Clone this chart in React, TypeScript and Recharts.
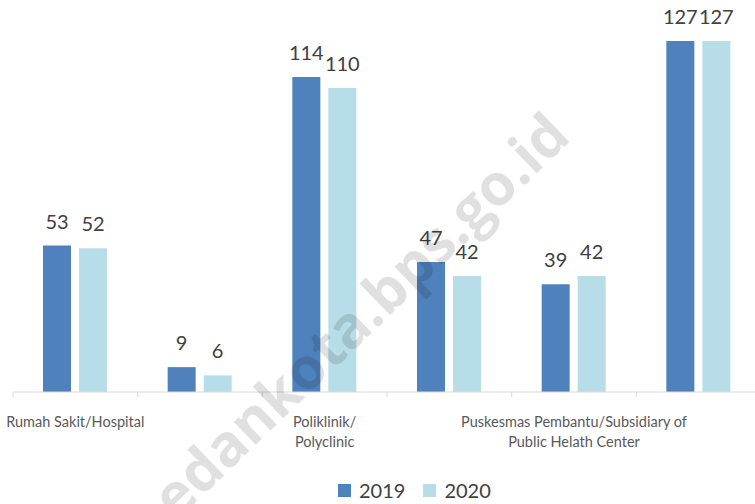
import { BarChart, Bar, XAxis, YAxis, LabelList } from 'recharts'

// facilities (only every other name is printed under the axis)
const categories = [
  'Rumah Sakit/Hospital',
  'Rumah Sakit Bersalin/Maternity Hospital',
  'Poliklinik/Polyclinic',
  'Puskesmas/Public Health Center',
  'Puskesmas Pembantu/Subsidiary of Public Helath Center',
  'Balai Pengobatan/Clinic',
]
const tickLines: string[][] = [
  ['Rumah Sakit/Hospital'],
  [],
  ['Poliklinik/', 'Polyclinic'],
  [],
  ['Puskesmas Pembantu/Subsidiary of', 'Public Helath Center'],
  [],
]
const years = ['2019', '2020']
const values2019 = [53, 9, 114, 47, 39, 127]
const values2020 = [52, 6, 110, 42, 42, 127]
const colors = ['#4F81BD', '#B7DEE8']

const data = categories.map((c, i) => ({
  name: c,
  y2019: values2019[i],
  y2020: values2020[i],
}))

const W = 770
const H = 504
const margin = { top: 41, right: 9, left: 13, bottom: 52 }
const band = (W - margin.left - margin.right) / categories.length
const font = 'Lato, "Open Sans", sans-serif'

const CategoryTick = ({ x, y, index }: any) => {
  const lines = tickLines[index] || []
  const left = x - band / 2
  return (
    <g>
      <line x1={left} x2={left} y1={y - 8} y2={y - 3} stroke="#d9d9d9" />
      {index === categories.length - 1 && (
        <line x1={left + band} x2={left + band} y1={y - 8} y2={y - 3} stroke="#d9d9d9" />
      )}
      {lines.map((l, k) => (
        <text key={k} x={x} y={y + 27 + k * 20} textAnchor="middle" fontSize={14.5} fill="#595959" fontFamily={font}>
          {l}
        </text>
      ))}
    </g>
  )
}

const App = () => (
  <div style={{ position: 'absolute', left: 0, top: 0, width: 755, height: 504, overflow: 'hidden', background: '#fff' }}>
    <BarChart width={W} height={H} data={data} margin={margin} barCategoryGap={30} barGap={8}>
      <XAxis
        dataKey="name"
        interval={0}
        height={60}
        tick={<CategoryTick />}
        tickLine={false}
        axisLine={{ stroke: '#d9d9d9' }}
      />
      <YAxis hide domain={[0, 127]} />
      {['y2019', 'y2020'].map((k, i) => (
        <Bar key={k} dataKey={k} fill={colors[i]} isAnimationActive={false}>
          <LabelList dataKey={k} position="top" offset={17} fontSize={20} fill="#404040" fontFamily={font} />
        </Bar>
      ))}
    </BarChart>

    {/* legend */}
    <div style={{ position: 'absolute', left: 338, top: 478, display: 'flex', alignItems: 'center', fontFamily: font, fontSize: 20, color: '#404040' }}>
      {years.map((yr, i) => (
        <div key={yr} style={{ display: 'flex', alignItems: 'center', marginRight: 18 }}>
          <span style={{ width: 13, height: 13, background: colors[i], display: 'inline-block', marginRight: 8 }} />
          <span>{yr}</span>
        </div>
      ))}
    </div>

    {/* watermark */}
    <svg width={755} height={504} style={{ position: 'absolute', left: 0, top: 0, pointerEvents: 'none' }}>
      <text
        x={354}
        y={350}
        textAnchor="middle"
        fontSize={58}
        fontWeight="bold"
        fontFamily='"Open Sans", sans-serif'
        fill="#000"
        fillOpacity={0.12}
        transform="rotate(-44 354 350)"
      >
        medankota.bps.go.id
      </text>
    </svg>
  </div>
)

export default App
